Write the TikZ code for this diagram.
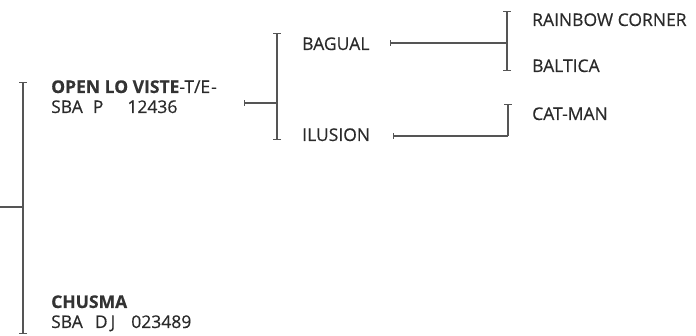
\documentclass[tikz,border=0pt]{standalone}
\usepackage{fontspec}
\setmainfont{Open Sans}[FakeBold=0.4]
\newcommand\semib{\bfseries}
\usetikzlibrary{arrows.meta}
\definecolor{linegray}{HTML}{555555}
\definecolor{txt}{HTML}{2A2A2A}
\definecolor{boldtxt}{HTML}{333333}
\begin{document}
\begin{tikzpicture}[x=1pt,y=-1pt,
  lbl/.style={anchor=base west,inner sep=0pt,font=\fontsize{17.5}{20}\selectfont,text=txt},
  conn/.style={draw=linegray,line width=1.4pt},
  brk/.style={conn,{Bar[width=8pt,line width=1.3pt]}-{Bar[width=8pt,line width=1.3pt]}},
  tick/.style={conn,{Bar[width=6pt,line width=1pt]}-}]
\useasboundingbox (0,0) rectangle (696,336);
% texts
\node[lbl] (openA) at (51,93) {{\semib\color{boldtxt}OPEN LO VISTE}-T/E\kern1pt-};
\node[lbl] (openB) at (51,113) {SBA\hspace{10pt}P\hspace{24pt}12436};
\node[lbl] (chusA) at (51,308) {{\semib\color{boldtxt}CHUSMA}};
\node[lbl] (chusB) at (51,328) {SBA\hspace{12pt}D\hspace{3pt}J\hspace{16pt}023489};
\node[lbl] (bagual) at (302,50) {BAGUAL};
\node[lbl] (ilusion) at (302,141) {ILUSION};
\node[lbl] (rainbow) at (532,26) {RAINBOW CORNER};
\node[lbl] (baltica) at (532,72) {BALTICA};
\node[lbl] (catman) at (532,120) {CAT-MAN};
% bracket coordinates
\coordinate (r0) at (0,207);
\coordinate (rt) at (23,82);
\coordinate (rb) at (23,334);
\coordinate (rm) at (23,207);
\coordinate (s2) at (244,103);
\coordinate (b2t) at (277,33);
\coordinate (b2b) at (277,140);
\coordinate (b2m) at (277,103);
\coordinate (sb) at (390,43);
\coordinate (b3t) at (507,11);
\coordinate (b3b) at (507,71);
\coordinate (b3m) at (507,43);
\coordinate (si) at (393,136);
\coordinate (cm) at (508,136);
\coordinate (ct) at (508,104);
% connectors
\draw[brk] (rt) -- (rb);
\draw[conn] (r0) -- (rm);
\draw[brk] (b2t) -- (b2b);
\draw[tick] (s2) -- (b2m);
\draw[brk] (b3t) -- (b3b);
\draw[tick] (sb) -- (b3m);
\draw[tick] (si) -- (cm);
\draw[conn,-{Bar[width=8pt,line width=1.3pt]}] (cm) -- (ct);
\end{tikzpicture}
\end{document}
